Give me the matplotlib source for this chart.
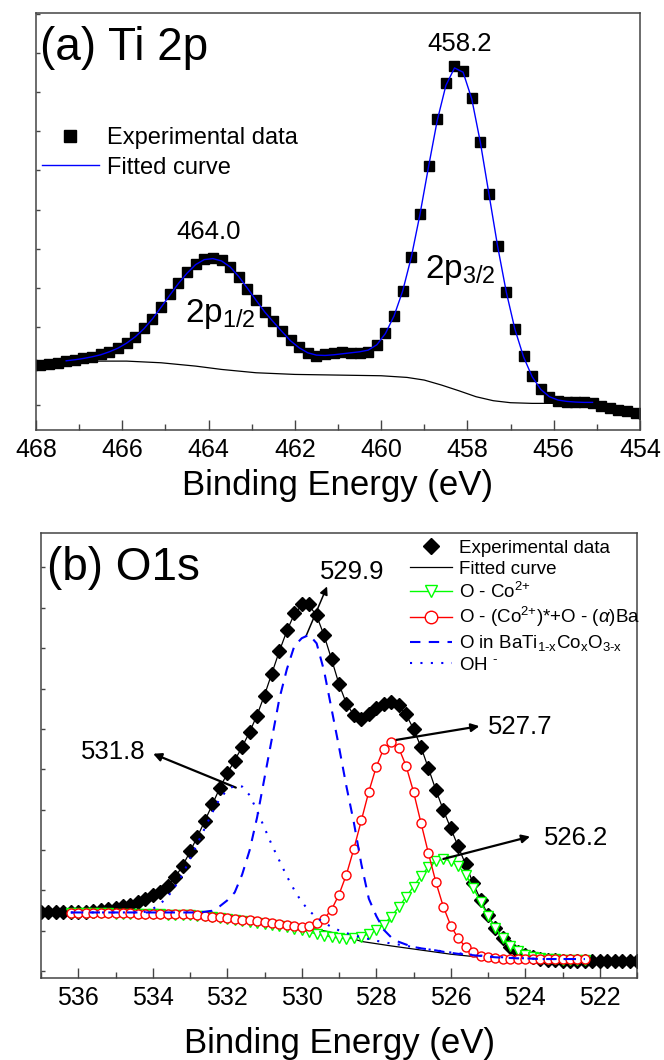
import numpy as np
import matplotlib.pyplot as plt
from matplotlib.lines import Line2D
from matplotlib.ticker import MultipleLocator

plt.rcParams['font.family'] = ['Liberation Sans', 'DejaVu Sans']
plt.rcParams['mathtext.fontset'] = 'custom'
plt.rcParams['mathtext.rm'] = 'Liberation Sans'
plt.rcParams['mathtext.it'] = 'Liberation Sans:italic'

# ---------------- (a) Ti 2p ----------------
# data recorded every 0.2 eV
be_a = np.round(np.arange(468.1, 453.85, -0.2), 1)
exp_a = [194, 196, 199, 202, 206, 210, 215, 220, 227, 235,
         247, 262, 280, 305, 335, 370, 408, 442, 474, 500,
         514, 517, 510, 490, 460, 424, 390, 355, 328, 298,
         270, 248, 230, 223, 227, 232, 233, 232, 232, 235,
         255, 290, 342, 417, 520, 649, 793, 933, 1042, 1095,
         1078, 997, 865, 708, 552, 414, 302, 222, 162, 123,
         98, 87, 84, 85, 84, 80, 73, 66, 61, 56,
         52, 49]

be_fit_a = np.round(np.arange(467.3, 455.05, -0.2), 1)
fit_a = [208, 211, 215, 220, 226, 235, 246, 261, 280, 304,
         334, 369, 405, 440, 471, 497, 512, 515, 508, 490,
         461, 426, 390, 355, 325, 296, 268, 247, 232, 225,
         224, 226, 229, 232, 235, 240, 256, 290, 343, 418,
         520, 648, 792, 930, 1035, 1088, 1075, 995, 864, 708,
         552, 415, 303, 220, 160, 122, 100, 90, 86, 84,
         83, 83]

be_bg_a = [466.6, 465.9, 465.1, 464.3, 463.7, 462.9, 462.0, 461.0, 460.0,
           459.4, 459.0, 458.6, 458.2, 457.8, 457.4, 457.0, 456.5, 456.0, 455.2]
bg_a = [207, 207, 202, 192, 182, 172, 167, 165, 163,
        158, 150, 135, 118, 100, 88, 82, 80, 80, 82]

# ---------------- (b) O1s ----------------
be_b = np.round(np.arange(537.0, 520.95, -0.2), 1)
exp_b = [192, 192, 191, 190, 190, 191, 192, 194, 196, 200,
         204, 208, 212, 220, 228, 240, 250, 267, 292, 325,
         367, 410, 455, 504, 552, 593, 630, 670, 713, 760,
         818, 882, 948, 1008, 1058, 1085, 1084, 1053, 995, 925,
         852, 795, 762, 752, 765, 782, 795, 800, 792, 765,
         722, 670, 608, 545, 487, 435, 382, 330, 275, 227,
         183, 145, 115, 90, 75, 67, 60, 56, 53, 52,
         50, 50, 50, 50, 50, 50, 50, 50, 50, 50, 50]
fit_b = [192, 192, 191, 190, 190, 191, 192, 194, 196, 199,
         203, 207, 212, 219, 228, 239, 251, 268, 292, 325,
         366, 410, 456, 503, 551, 593, 631, 670, 713, 762,
         820, 884, 948, 1006, 1055, 1080, 1080, 1050, 993, 924,
         852, 795, 762, 753, 764, 782, 794, 798, 790, 764,
         722, 670, 608, 545, 487, 434, 381, 329, 275, 227,
         183, 145, 115, 91, 76, 67, 61, 56, 53, 52,
         51, 50, 50, 50, 50, 50, 50, 50, 50, 50, 50]

be_c = np.round(np.arange(536.2, 522.35, -0.2), 1)
co2_b = [187, 187, 187, 187, 187, 187, 186, 186, 186, 186,
         185, 185, 185, 184, 184, 183, 182, 181, 180, 178,
         175, 172, 169, 166, 163, 160, 157, 154, 150, 147,
         143, 138, 133, 128, 123, 119, 116, 114, 115, 120,
         128, 140, 155, 178, 205, 235, 265, 295, 322, 338,
         345, 340, 325, 300, 262, 220, 180, 145, 117, 93,
         78, 68, 62, 58, 55, 54, 53, 53, 52, 52]
coba_b = [187, 187, 187, 187, 187, 187, 187, 187, 187, 186,
          186, 186, 186, 186, 186, 186, 186, 183, 180, 178,
          176, 174, 172, 169, 167, 164, 161, 159, 156, 153,
          150, 148, 150, 158, 172, 198, 242, 300, 375, 457,
          540, 612, 665, 685, 668, 615, 540, 450, 362, 278,
          207, 152, 115, 90, 75, 65, 60, 57, 56, 55,
          55, 55, 55, 55, 55, 55, 55, 55, 55, 55]
lat_b = [190, 190, 190, 190, 190, 190, 190, 190, 190, 190,
         190, 190, 190, 190, 190, 190, 190, 190, 192, 195,
         208, 225, 248, 300, 370, 465, 580, 695, 810, 895,
         962, 985, 995, 970, 890, 780, 670, 555, 450, 330,
         230, 180, 140, 118, 105, 97, 90, 86, 83, 80,
         76, 73, 70, 68, 66, 64, 62, 60, 59, 58,
         57, 57, 56, 55, 55, 55, 55, 55, 55, 55]
oh_b = [190, 190, 190, 190, 190, 190, 190, 190, 190, 190,
        192, 200, 215, 235, 265, 300, 345, 390, 435, 480,
        520, 545, 558, 555, 530, 485, 435, 385, 340, 295,
        255, 220, 195, 175, 160, 148, 138, 130, 124, 118,
        113, 108, 104, 100, 97, 93, 90, 86, 83, 80,
        77, 74, 72, 69, 67, 65, 63, 62, 60, 59,
        58, 57, 56, 55, 55, 55, 55, 55, 55, 55]

be_bg_b = [536.2, 534.0, 532.0, 530.0, 529.0, 528.4, 527.6, 526.8, 526.0, 525.2, 524.4, 522.4]
bg_b = [190, 188, 175, 150, 128, 106, 93, 81, 69, 60, 56, 55]

GREEN = '#00ff00'
RED = '#ff0000'
BLUE = '#0000ff'
SPINE = '#444444'

fig = plt.figure(figsize=(6.64, 10.6), dpi=100)
ax1 = fig.add_axes([36/664, 1-430/1060, 604/664, 417/1060])
ax2 = fig.add_axes([41/664, 1-978/1060, 596/664, 445/1060])


def style_axes(ax, xlim, ylim, yticks, labelpad):
    ax.set_xlim(*xlim)
    ax.set_ylim(*ylim)
    ax.xaxis.set_major_locator(MultipleLocator(2))
    ax.xaxis.set_minor_locator(MultipleLocator(1))
    ax.set_yticks(yticks)
    ax.set_yticklabels([])
    ax.tick_params(axis='x', which='major', direction='in', length=7, width=1,
                   color=SPINE, labelsize=18, pad=6, top=False)
    ax.tick_params(axis='x', which='minor', direction='in', length=4, width=1,
                   color=SPINE, top=False)
    ax.tick_params(axis='y', which='major', direction='in', length=3, width=1,
                   color=SPINE, right=False)
    for s in ax.spines.values():
        s.set_color(SPINE)
        s.set_linewidth(1.1)
    ax.set_xlabel('Binding Energy (eV)', fontsize=25, labelpad=labelpad)


# ---- panel (a)
ax1.plot(be_a, exp_a, 's', color='k', ms=6.5, zorder=2)
ax1.plot(be_fit_a, fit_a, '-', color=BLUE, lw=1, zorder=3)
ax1.plot(be_bg_a, bg_a, '-', color='k', lw=0.9, zorder=1)
style_axes(ax1, (468, 454), (0, 1253), np.arange(75, 1253, 117.5), 5)

ax1.text(0.007, 0.97, '(a) Ti 2p', transform=ax1.transAxes, fontsize=33,
         ha='left', va='top')
ax1.text(458.19, 1160, '458.2', fontsize=18.5, ha='center', va='center')
ax1.text(463.99, 595, '464.0', fontsize=18.5, ha='center', va='center')
ax1.text(458.98, 457, r'2p$_{\mathrm{3/2}}$', fontsize=24, ha='left', va='baseline')
ax1.text(464.55, 325, r'2p$_{\mathrm{1/2}}$', fontsize=24, ha='left', va='baseline')

h_a = [Line2D([], [], marker='s', ls='none', color='k', ms=8.5),
       Line2D([], [], color=BLUE, lw=1)]
ax1.legend(h_a, ['Experimental data', 'Fitted curve'], loc='upper left',
           bbox_to_anchor=(0.01, 0.727), frameon=False, fontsize=17,
           handlelength=2.4, handletextpad=0.35, labelspacing=0.33,
           borderaxespad=0, borderpad=0)

# ---- panel (b)
ax2.plot(be_b, exp_b, 'D', color='k', ms=7, zorder=2)
ax2.plot(be_b, fit_b, '-', color='k', lw=0.9, zorder=2)
ax2.plot(be_bg_b, bg_b, '-', color='k', lw=0.9, zorder=2)
ax2.plot(be_c, co2_b, '-v', color=GREEN, mfc='white', ms=7, lw=1, zorder=3)
ax2.plot(be_c, coba_b, '-o', color=RED, mfc='white', ms=6.5, lw=1, zorder=4)
ax2.plot(be_c, lat_b, color=BLUE, lw=1.5, ls=(0, (5, 4)), zorder=5)
ax2.plot(be_c, oh_b, color=BLUE, lw=1.5, ls=(0, (1, 4)), zorder=5)
style_axes(ax2, (537, 521), (0, 1290), np.arange(20, 1290, 117), 12)

ax2.text(0.01, 0.97, '(b) O1s', transform=ax2.transAxes, fontsize=33,
         ha='left', va='top')

arrow = dict(arrowstyle='-|>', color='k', lw=1.6, mutation_scale=12,
             shrinkA=0, shrinkB=0)
ax2.annotate('', xy=(529.32, 1135), xytext=(529.89, 990),
             arrowprops=dict(arrow, lw=1.1))
ax2.text(528.64, 1178, '529.9', fontsize=18.5, ha='center', va='center')
ax2.annotate('', xy=(533.99, 650), xytext=(531.77, 552), arrowprops=arrow)
ax2.text(535.07, 655, '531.8', fontsize=18.5, ha='center', va='center')
ax2.annotate('', xy=(525.23, 730), xytext=(527.64, 687), arrowprops=arrow)
ax2.text(524.14, 727, '527.7', fontsize=18.5, ha='center', va='center')
ax2.annotate('', xy=(523.87, 410), xytext=(526.20, 345), arrowprops=arrow)
ax2.text(522.63, 405, '526.2', fontsize=18.5, ha='center', va='center')

h_b = [Line2D([], [], marker='D', ls='none', color='k', ms=8),
       Line2D([], [], color='k', lw=0.9),
       Line2D([], [], marker='v', color=GREEN, mfc='white', ms=9, lw=1),
       Line2D([], [], marker='o', color=RED, mfc='white', ms=9, lw=1),
       Line2D([], [], color=BLUE, lw=1.5, ls=(0, (5, 4))),
       Line2D([], [], color=BLUE, lw=1.5, ls=(0, (1, 4)))]
labels_b = ['Experimental data', 'Fitted curve', r'O - Co$^{\text{2+}}$',
            r'O - (Co$^{\text{2+}}$)*+O - ($\alpha$)Ba',
            r'O in BaTi$_{\text{1-x}}$Co$_{\text{x}}$O$_{\text{3-x}}$',
            r'OH $^{\text{-}}$']
ax2.legend(h_b, labels_b, loc='upper left', bbox_to_anchor=(0.619, 0.985),
           frameon=False, fontsize=13.5, handlelength=2.25, handletextpad=0.37,
           labelspacing=0.2, borderaxespad=0, borderpad=0)

fig.savefig('out.png', dpi=100)
